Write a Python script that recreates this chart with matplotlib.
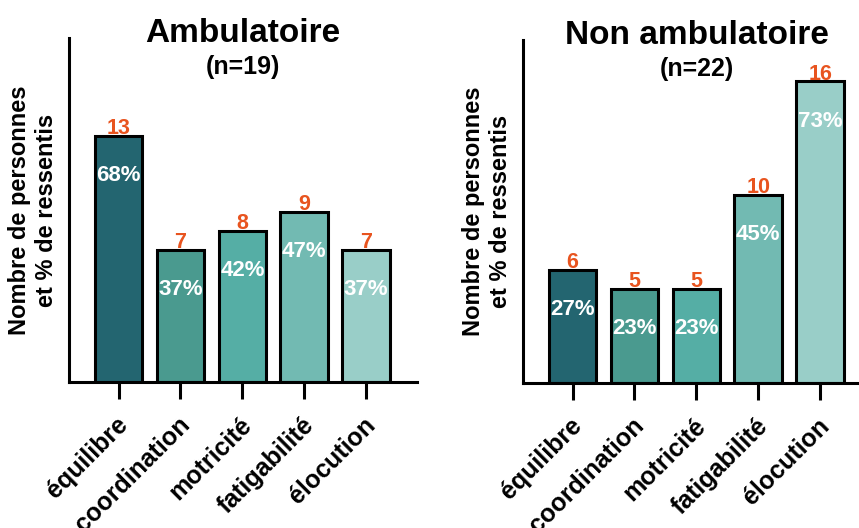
import matplotlib.pyplot as plt
from matplotlib.transforms import ScaledTranslation

plt.rcParams['font.family'] = ['Liberation Sans', 'DejaVu Sans']
plt.rcParams['font.weight'] = 'bold'

categories = ['équilibre', 'coordination', 'motricité', 'fatigabilité', 'élocution']
ambulatoire = [13, 7, 8, 9, 7]
ambulatoire_pct = ['68%', '37%', '42%', '47%', '37%']
non_ambulatoire = [6, 5, 5, 10, 16]
non_ambulatoire_pct = ['27%', '23%', '23%', '45%', '73%']
panels = [
    ('Ambulatoire', '(n=19)', ambulatoire, ambulatoire_pct),
    ('Non ambulatoire', '(n=22)', non_ambulatoire, non_ambulatoire_pct),
]

bar_colors = ['#236570', '#4a9a8f', '#55aea5', '#72bab2', '#99cec8']
orange = '#e8541f'

fig = plt.figure(figsize=(8.59, 5.28), dpi=100)
axes_pos = [
    [69 / 859, 1 - 382 / 528, 348 / 859, 344 / 528],
    [523 / 859, 1 - 383 / 528, 348 / 859, 343 / 528],
]

for pos, (titre, n_txt, valeurs, pcts) in zip(axes_pos, panels):
    ax = fig.add_axes(pos)
    x = range(len(categories))
    ax.bar(x, valeurs, width=0.77, color=bar_colors, edgecolor='black', linewidth=2.2, zorder=2)
    for i, (v, p) in enumerate(zip(valeurs, pcts)):
        ax.text(i, v + 0.1, str(v), color=orange, fontsize=15.5, fontweight='bold',
                ha='center', va='baseline')
        ax.text(i, v - 2.1, p, color='white', fontsize=16, fontweight='bold',
                ha='center', va='center')
    ax.set_xlim(-0.8, 4.82)
    ax.set_ylim(0, 18.2)
    for s in ['top', 'right']:
        ax.spines[s].set_visible(False)
    for s in ['left', 'bottom']:
        ax.spines[s].set_linewidth(2.2)
    ax.tick_params(axis='y', left=False, labelleft=False)
    ax.tick_params(axis='x', length=12, width=2.2, pad=10)
    ax.set_xticks(list(x))
    ax.set_xticklabels(categories, rotation=45, ha='right', rotation_mode='anchor',
                       fontsize=18, fontweight='bold')
    decal = ScaledTranslation(-3 / 100, 0, fig.dpi_scale_trans)
    for lab in ax.get_xticklabels():
        lab.set_transform(lab.get_transform() + decal)
    ax.set_ylabel('Nombre de personnes\net % de ressentis', fontsize=17,
                  fontweight='bold', labelpad=8)
    ax.text(0.5, 0.988, titre, transform=ax.transAxes, ha='center', va='baseline',
            fontsize=24, fontweight='bold')
    ax.text(0.5, 0.895, n_txt, transform=ax.transAxes, ha='center', va='baseline',
            fontsize=18, fontweight='bold')

plt.savefig('out.png', dpi=100)
